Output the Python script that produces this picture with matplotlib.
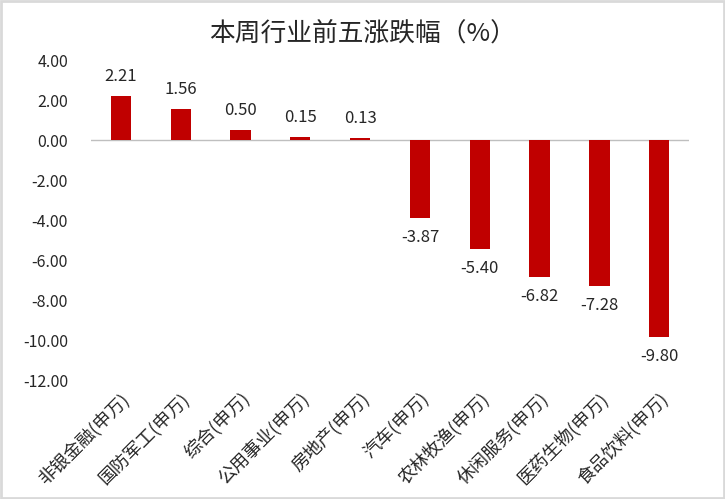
import numpy as np
import matplotlib
matplotlib.use('Agg')
import matplotlib.pyplot as plt
from matplotlib.patches import Rectangle

plt.rcParams['font.family'] = ['Noto Sans CJK SC', 'DejaVu Sans']
plt.rcParams['axes.unicode_minus'] = False

industries = ['非银金融(申万)', '国防军工(申万)', '综合(申万)', '公用事业(申万)', '房地产(申万)',
              '汽车(申万)', '农林牧渔(申万)', '休闲服务(申万)', '医药生物(申万)', '食品饮料(申万)']
changes = [2.21, 1.56, 0.50, 0.15, 0.13, -3.87, -5.40, -6.82, -7.28, -9.80]
y_ticks = [4, 2, 0, -2, -4, -6, -8, -10, -12]

fig = plt.figure(figsize=(7.25, 4.99), dpi=100)
ax = fig.add_axes([0.1255, 0.2365, 0.825, 0.643])

x_pos = np.arange(len(industries))
bars = ax.bar(x_pos, changes, width=0.34, color='#c00000', zorder=3)
ax.bar_label(bars, labels=[f'{v:.2f}' for v in changes], padding=8, fontsize=12, color='#262626')

ax.set_xlim(-0.5, len(industries) - 0.5)
ax.set_ylim(-12, 4)
ax.set_yticks(y_ticks)
ax.set_yticklabels([f'{t:.2f}' for t in y_ticks], fontsize=11.5, color='#262626')
ax.set_xticks(x_pos)
ax.set_xticklabels(industries, rotation=45, ha='right', rotation_mode='anchor', fontsize=13, color='#262626')
ax.tick_params(axis='both', length=0)
ax.tick_params(axis='x', pad=6)
ax.tick_params(axis='y', pad=16.5)

for side in ['top', 'right', 'left', 'bottom']:
    ax.spines[side].set_visible(False)
ax.axhline(0, color='#bfbfbf', linewidth=1, zorder=2)

fig.suptitle('本周行业前五涨跌幅（%）', y=0.958, fontsize=18.5, color='#262626')

fig.patches.append(Rectangle((0.002, 0.003), 0.996, 0.994, transform=fig.transFigure,
                             fill=False, edgecolor='#d9d9d9', linewidth=2))

fig.savefig('out.png', dpi=100)
